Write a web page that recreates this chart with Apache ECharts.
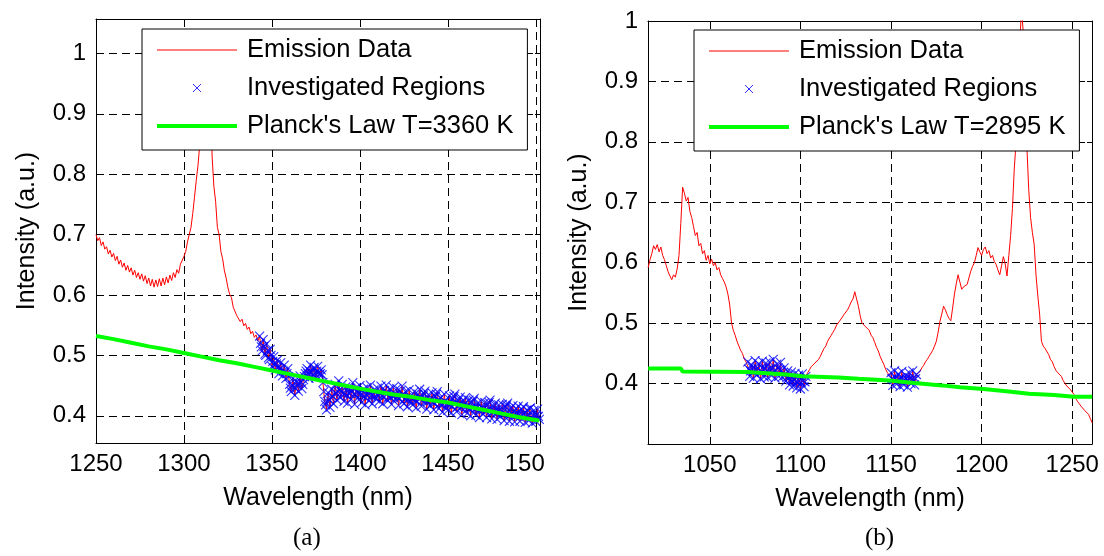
<!DOCTYPE html>
<html><head><meta charset="utf-8">
<script src="https://cdn.jsdelivr.net/npm/echarts@6/dist/echarts.min.js"></script>
<style>html,body{margin:0;padding:0;background:#fff}#c{width:1104px;height:556px}</style>
</head><body><div id="c"></div>
<script>
// ---------- Panel (a) ----------
const startA = 1250;            // first wavelength of emission samples (1 nm step)
const emissionA = [
 .700,.690,.695,.682,.688,.676,.680,.668,.674,.663,
 .669,.657,.664,.651,.658,.646,.653,.641,.649,.638,
 .645,.633,.641,.629,.637,.626,.635,.623,.632,.619,
 .628,.615,.626,.613,.625,.614,.627,.615,.628,.617,
 .630,.620,.633,.624,.637,.629,.642,.636,.651,.648,
 .664,.672,.688,.700,.712,.735,.762,.790,.815,.850,
 .900,.960,1.00,1.03,1.01,.940,.830,.780,.755,.712,
 .700,.672,.660,.640,.628,.612,.601,.596,.580,.577,
 .566,.568,.556,.560,.549,.553,.543,.547,.536,.540,
 .530,.534,.524,.532,.514,.526,.502,.519,.496,.510,
 .482,.498,.476,.492,.470,.488,.466,.484,.462,.478,
 .452,.440,.462,.434,.456,.441,.466,.445,.460,.470,
 .478,.462,.484,.466,.480,.463,.482,.468,.476,.455,
 .424,.410,.438,.414,.444,.420,.452,.426,.458,.430,
 .452,.424,.448,.421,.446,.428,.455,.419,.447,.430,
 .450,.422,.444,.418,.447,.425,.451,.420,.443,.428,
 .446,.424,.449,.420,.442,.451,.425,.444,.419,.447,
 .428,.445,.417,.441,.449,.420,.440,.415,.443,.424,
 .418,.440,.413,.436,.444,.416,.433,.441,.411,.435,
 .417,.438,.410,.432,.440,.412,.430,.406,.436,.414,
 .409,.433,.405,.428,.436,.407,.426,.431,.402,.425,
 .430,.404,.426,.400,.423,.429,.401,.421,.397,.424,
 .403,.422,.397,.419,.426,.395,.416,.421,.394,.418,
 .399,.419,.392,.415,.421,.391,.413,.417,.390,.412,
 .416,.391,.411,.415,.389,.410,.392,.413,.388,.409,
 .391,.411,.394
];
// extra samples half-way between the 1 nm samples, inside the investigated region
const halfStartA = 1343.5;
const halfA = [
 .520,.508,.515,.500,.508,.493,.500,
 .490,.484,.486,.480,.478,.476,.474,.472,.470,.465,
 .446,.451,.448,.445,.450,.454,.456,.452,.465,.474,
 .470,.474,.472,.476,.470,.474,.472,.470,.468,.440,
 .418,.424,.426,.430,.432,.436,.438,.440,.442,.440,
 .438,.436,.434,.438,.437,.441,.436,.435,.439,.437,
 .436,.434,.432,.435,.434,.438,.433,.436,.431,.435,
 .434,.437,.433,.431,.438,.436,.432,.430,.434,.433,
 .436,.431,.429,.433,.435,.428,.430,.427,.432,.429,
 .428,.426,.424,.430,.429,.425,.437,.426,.423,.427,
 .425,.423,.421,.436,.425,.420,.418,.422,.424,.419,
 .420,.418,.416,.432,.421,.415,.419,.413,.417,.420,
 .415,.413,.412,.414,.426,.411,.413,.409,.411,.413,
 .411,.408,.410,.422,.409,.406,.407,.405,.408,.410,
 .404,.406,.403,.418,.405,.402,.404,.401,.403,.402,
 .402,.400,.401,.404,.399,.401,.412,.398,.400,.399,
 .401,.399
];
const regionsA = [[1343, 1502]];
const planckAx = [1250,1260,1270,1280,1290,1300,1310,1320,1330,1340,1350,1360,1370,1380,1390,1400,1410,1420,1430,1440,1450,1460,1470,1480,1490,1500,1502];
const planckAy = [.532,.527,.521,.515,.510,.504,.498,.492,.487,.481,.475,.469,.463,.457,.451,.445,.440,.435,.431,.426,.422,.416,.410,.404,.398,.393,.392];
const labelPlanckA = "Planck's Law T=3360 K";
const xRangeA = [1250, 1502.4];
const yRangeA = [0.355, 1.057];

// ---------- Panel (b) ----------
const startB = 1016;
const emissionB = [
 .592,.605,.615,.628,.622,.630,.618,.626,.612,.605,
 .595,.585,.578,.572,.580,.576,.590,.612,.665,.725,
 .715,.702,.708,.685,.675,.660,.645,.650,.628,.632,
 .615,.620,.604,.612,.598,.606,.595,.600,.588,.592,
 .580,.574,.568,.560,.548,.530,.500,.488,.480,.470,
 .468,.455,.450,.441,.436,.436,.412,.431,.409,.438,
 .414,.433,.408,.437,.411,.434,.410,.436,.413,.440,
 .409,.432,.412,.435,.411,.426,.404,.421,.398,.419,
 .396,.417,.393,.414,.391,.416,.395,.412,.418,.423,
 .428,.425,.434,.432,.440,.445,.452,.458,.462,.470,
 .468,.480,.485,.490,.497,.494,.505,.508,.514,.512,
 .522,.528,.535,.540,.552,.540,.528,.512,.500,.502,
 .494,.496,.488,.480,.476,.468,.460,.454,.445,.438,
 .432,.424,.418,.414,.418,.397,.421,.399,.416,.395,
 .420,.398,.414,.394,.418,.400,.421,.398,.415,.416,
 .420,.426,.430,.436,.440,.445,.448,.455,.462,.470,
 .485,.503,.515,.528,.522,.514,.508,.504,.525,.548,
 .565,.580,.568,.556,.560,.558,.564,.575,.586,.594,
 .600,.612,.625,.618,.612,.622,.626,.615,.620,.608,
 .612,.602,.597,.588,.580,.595,.610,.598,.578,.612,
 .645,.690,.755,.800,.880,.960,1.02,.980,.880,.790,
 .720,.675,.650,.630,.580,.545,.515,.470,.462,.458,
 .455,.448,.440,.436,.428,.422,.418,.415,.412,.405,
 .400,.396,.393,.390,.387,.382,.375,.370,.366,.362,
 .360,.355,.352,.349,.342,.335
];
const halfStartB1 = 1071.5;
const halfB1 = [
 .424,.421,.426,.420,.423,.425,.422,.419,.424,.426,
 .421,.424,.423,.425,.420,.422,.426,.423,.421,.418,
 .413,.410,.409,.406,.405,.407,.403,.402,.404,.401,
 .405,.403
];
const halfStartB2 = 1150.5;
const halfB2 = [.408,.406,.409,.405,.407,.410,.404,.406,.408,.405,.409,.407,.406,.408];
const regionsB = [[1071, 1103], [1150, 1164]];
const planckBx = [1016,1034,1035,1071,1092,1101,1121,1132,1149,1163,1178,1188,1201,1215,1226,1240,1251,1261];
const planckBy = [.425,.425,.420,.419,.415,.412,.410,.408,.405,.401,.397,.394,.391,.387,.383,.381,.378,.378];
const labelPlanckB = "Planck's Law T=2895 K";
const xRangeB = [1015.9, 1260.9];
const yRangeB = [0.3, 1.0];

// ---------- build ----------
const FONT = "'Liberation Sans', Arial, sans-serif";
const toPairs = (start, arr) => arr.map((v, i) => [start + i, v]);
const inRegions = (pairs, regs) => pairs.filter(p => regs.some(r => p[0] >= r[0] && p[0] <= r[1]));
const zip = (xs, ys) => xs.map((x, i) => [x, ys[i]]);
const bySort = arr => arr.slice().sort((a, b) => a[0] - b[0]);

const emA = bySort(toPairs(startA, emissionA).concat(toPairs(halfStartA, halfA)));
const emB = bySort(toPairs(startB, emissionB).concat(toPairs(halfStartB1, halfB1), toPairs(halfStartB2, halfB2)));
const crossPath = 'path://M0,0L10,10M10,0L0,10';
const crossStyle = {color: 'rgba(0,0,0,0)', borderColor: '#0000ff', borderWidth: 1.1};

function mainX(grid, range, name, fmt, showMin) {
  return {
    gridIndex: grid, type: 'value', min: range[0], max: range[1],
    axisLine: {show: true, onZero: false, lineStyle: {color: '#000', width: 1}},
    axisTick: {show: true, inside: true, length: 5, lineStyle: {color: '#000'}},
    splitLine: {show: true, lineStyle: {color: '#000', type: [8, 5], width: 1}},
    axisLabel: {show: true, color: '#000', fontSize: 24, fontFamily: FONT, margin: 9,
      showMinLabel: showMin, showMaxLabel: false, hideOverlap: false, formatter: fmt,
      rich: {c: {fontSize: 24, fontFamily: FONT, color: '#000', padding: [0, 22, 0, 0]}}},
    name: name, nameLocation: 'middle', nameGap: 43,
    nameTextStyle: {fontSize: 25, color: '#000', fontFamily: FONT}
  };
}
function mirrorX(grid, range) {
  return {
    gridIndex: grid, type: 'value', position: 'top', min: range[0], max: range[1],
    axisLine: {show: true, onZero: false, lineStyle: {color: '#000'}},
    axisTick: {show: true, inside: true, length: 5, lineStyle: {color: '#000'}},
    splitLine: {show: false}, axisLabel: {show: false}
  };
}
function mainY(grid, range, showMax) {
  return {
    gridIndex: grid, type: 'value', min: range[0], max: range[1],
    axisLine: {show: true, onZero: false, lineStyle: {color: '#000', width: 1}},
    axisTick: {show: true, inside: true, length: 5, lineStyle: {color: '#000'}},
    splitLine: {show: true, lineStyle: {color: '#000', type: [8, 5], width: 1}},
    axisLabel: {show: true, color: '#000', fontSize: 24, fontFamily: FONT, margin: 10,
      showMinLabel: false, showMaxLabel: showMax, hideOverlap: false},
    name: 'Intensity (a.u.)', nameLocation: 'middle', nameGap: 56,
    nameTextStyle: {fontSize: 25, color: '#000', fontFamily: FONT}
  };
}
function mirrorY(grid, range) {
  return {
    gridIndex: grid, type: 'value', position: 'right', min: range[0], max: range[1],
    axisLine: {show: true, onZero: false, lineStyle: {color: '#000'}},
    axisTick: {show: true, inside: true, length: 5, lineStyle: {color: '#000'}},
    splitLine: {show: false}, axisLabel: {show: false}
  };
}
function legendFor(left, top, planckName) {
  return {
    orient: 'vertical', left: left, top: top,
    backgroundColor: '#fff', borderColor: '#000', borderWidth: 1,
    padding: [7, 14, 10, 15], itemWidth: 80, itemHeight: 8, itemGap: 10,
    selectedMode: false,
    textStyle: {fontSize: 25.5, lineHeight: 28, color: '#000', fontFamily: FONT, padding: [0, 0, 0, 5]},
    data: [
      {name: 'Emission Data', icon: 'path://M0,0H80V1H0Z', itemStyle: {color: '#ff0000'}},
      {name: 'Investigated Regions', icon: crossPath, itemStyle: {color: 'rgba(0,0,0,0)', borderColor: '#0000ff', borderWidth: 1}},
      {name: planckName, icon: 'path://M0,0H80V4H0Z', itemStyle: {color: '#00ff00'}}
    ]
  };
}
function seriesFor(xi, yi, em, regs, px, py, planckName) {
  return [
    {name: 'Emission Data', type: 'line', xAxisIndex: xi, yAxisIndex: yi, data: em,
     symbol: 'none', lineStyle: {color: '#ff0000', width: 1}, itemStyle: {color: '#ff0000'},
     clip: true, z: 2, silent: true},
    {name: 'Investigated Regions', type: 'scatter', xAxisIndex: xi, yAxisIndex: yi,
     data: inRegions(em, regs), symbol: crossPath, symbolSize: 9,
     itemStyle: crossStyle, z: 3, silent: true},
    {name: planckName, type: 'line', xAxisIndex: xi, yAxisIndex: yi, data: zip(px, py),
     symbol: 'none', lineStyle: {color: '#00ff00', width: 4}, itemStyle: {color: '#00ff00'},
     clip: true, z: 4, silent: true}
  ];
}

const option = {
  animation: false,
  backgroundColor: '#fff',
  textStyle: {fontFamily: FONT, color: '#000'},
  grid: [
    {left: 96, top: 19, width: 444, height: 424, show: false},
    {left: 648, top: 21, width: 444, height: 423, show: false}
  ],
  xAxis: [
    mainX(0, xRangeA, 'Wavelength (nm)', v => v === 1500 ? '{c|150}' : String(v), true),
    mirrorX(0, xRangeA),
    mainX(1, xRangeB, 'Wavelength (nm)', v => String(v), false),
    mirrorX(1, xRangeB)
  ],
  yAxis: [mainY(0, yRangeA, false), mirrorY(0, yRangeA), mainY(1, yRangeB, true), mirrorY(1, yRangeB)],
  legend: [legendFor(142, 29, labelPlanckA), legendFor(694, 30, labelPlanckB)],
  series: [
    ...seriesFor(0, 0, emA, regionsA, planckAx, planckAy, labelPlanckA),
    ...seriesFor(2, 2, emB, regionsB, planckBx, planckBy, labelPlanckB)
  ],
  graphic: [
    {type: 'text', left: 293, top: 526, style: {text: '(a)', fontSize: 25, fontFamily: "'Liberation Serif', 'Times New Roman', serif", fill: '#000'}},
    {type: 'text', left: 865, top: 526, style: {text: '(b)', fontSize: 25, fontFamily: "'Liberation Serif', 'Times New Roman', serif", fill: '#000'}}
  ]
};
const chart = echarts.init(document.getElementById('c'), null, {renderer: 'canvas'});
chart.setOption(option);
</script></body></html>
